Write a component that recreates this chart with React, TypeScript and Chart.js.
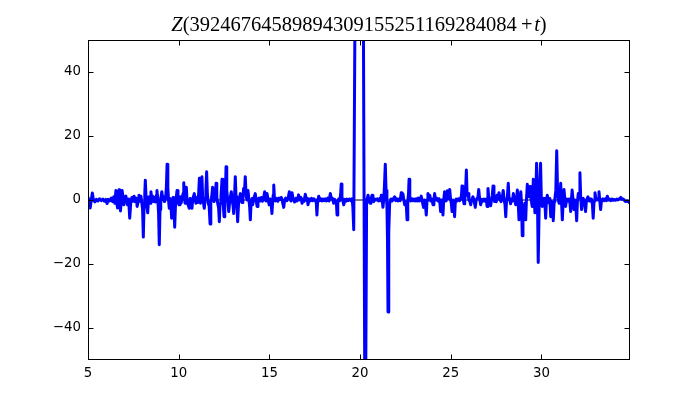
import { useEffect, useRef } from "react";
import { Chart, registerables } from "chart.js";

Chart.register(...registerables);

const titleParts: { text: string; italic: boolean }[] = [
  { text: "Z", italic: true },
  { text: "(39246764589894309155251169284084", italic: false },
  { text: "\u2009+\u200a", italic: false },
  { text: "t", italic: true },
  { text: ")", italic: false },
];
const xTicks = [5, 10, 15, 20, 25, 30];
const yTicks = [-40, -20, 0, 20, 40];
const X_MIN = 5;
const X_MAX = 34.88;
const Y_MIN = -50;
const Y_MAX = 50;

// [t, Z] pairs, by stretch of t
const part1: [number, number][] = [
  [5.0, 0.8], [5.06, -0.5], [5.12, -2.5], [5.18, 0], [5.24, 2.2], [5.3, 0], [5.38, -0.6], [5.46, 0.2],
  [5.55, -0.3], [5.64, 0.4], [5.73, -0.2], [5.82, 0.3], [5.9, -0.4], [5.98, 0.2], [6.05, -1.1], [6.12, 0.2],
  [6.2, -0.3], [6.28, 0.6], [6.35, -0.5], [6.42, 1.0], [6.48, -1.0], [6.54, 3.0], [6.59, -1.0], [6.63, -2.5],
  [6.67, 1.0], [6.71, 3.2], [6.75, 0], [6.79, -3.4], [6.84, 0], [6.88, 3.0], [6.93, 1.0], [6.98, -1.5],
  [7.03, 0.5], [7.09, 1.2], [7.14, -0.5], [7.18, -1.5], [7.24, 0.3], [7.3, -5.7], [7.36, -0.5], [7.42, 0.8],
  [7.48, -0.4], [7.54, 1.2], [7.6, -0.5], [7.66, 0.6], [7.71, -2.0], [7.76, -0.5], [7.81, 1.5], [7.86, -0.3],
  [7.92, 1.2], [7.97, -1.0], [8.01, -3.0], [8.05, -11.6], [8.09, -2.0], [8.13, 2.0], [8.16, 6.2], [8.2, 1.0],
  [8.24, -1.5], [8.29, -4.0], [8.33, -0.5], [8.38, 1.0], [8.43, -1.0], [8.47, 2.6], [8.52, 0], [8.57, 1.2],
  [8.62, -0.5], [8.67, 0.8], [8.72, -0.6], [8.77, 1.5], [8.8, 3.0], [8.85, 0], [8.89, -4.0], [8.93, -14.0],
  [8.97, -3.0], [9.01, 0.5], [9.07, 2.6], [9.12, 0], [9.17, 1.0], [9.22, -0.5], [9.28, 0.5], [9.32, 4.0],
  [9.36, 11.2], [9.4, 4.0], [9.44, 0], [9.48, -2.6], [9.52, 0.5], [9.57, -1.0], [9.61, -5.7], [9.65, -1.0],
  [9.69, 0.8], [9.73, -2.0], [9.78, -8.5], [9.82, -2.0], [9.87, 1.0], [9.91, 3.0], [9.96, 0],
];

const part2: [number, number][] = [
  [10.02, -1.5], [10.07, 1.0], [10.13, -1.0], [10.19, 0.5], [10.24, 2.0], [10.28, 5.4], [10.32, 1.0], [10.35, -1.0],
  [10.38, 1.5], [10.42, 4.0], [10.46, 0], [10.52, -1.5], [10.58, -2.6], [10.63, 0.5], [10.68, -1.2], [10.73, -2.6],
  [10.78, 0.5], [10.86, 2.0], [10.91, 0], [10.95, -1.0], [11.0, 0.8], [11.05, -0.8], [11.1, 2.0], [11.14, 6.8],
  [11.17, 1.0], [11.2, -1.0], [11.24, 2.0], [11.28, 7.3], [11.32, 1.0], [11.37, -1.0], [11.41, -2.6], [11.46, 0.5],
  [11.5, 3.0], [11.54, 8.8], [11.58, 2.0], [11.63, -1.0], [11.68, -2.0], [11.73, -7.5], [11.77, -1.0], [11.82, 1.0],
  [11.87, 4.0], [11.91, 1.0], [11.95, -0.5], [12.01, 1.0], [12.06, 5.2], [12.1, 1.0], [12.15, -1.0], [12.2, -2.5],
  [12.24, -6.8], [12.28, -1.0], [12.33, 1.0], [12.39, 6.5], [12.44, 0], [12.5, -5.2], [12.54, 0], [12.58, 3.0],
  [12.61, 10.4], [12.65, 3.0], [12.7, 0], [12.76, -3.6], [12.82, 0], [12.9, 2.6], [12.95, 0], [13.0, -2.0],
  [13.03, -4.2], [13.07, 0], [13.12, 7.3], [13.16, 1.0], [13.21, -2.0], [13.25, -6.8], [13.3, -1.0], [13.35, 0.5],
  [13.4, 2.0], [13.45, 0], [13.49, -0.8], [13.54, 1.0], [13.58, 3.6], [13.62, 2.0], [13.67, 7.3], [13.72, 1.0],
  [13.77, 0], [13.82, 3.0], [13.87, 0], [13.91, -2.0], [13.95, -6.2], [13.99, -1.0], [14.04, 0.5], [14.08, -1.5],
  [14.14, 0.5], [14.22, 2.0], [14.27, 0], [14.32, -2.0], [14.37, 0], [14.43, 0.6], [14.5, -0.3], [14.56, 0.8],
  [14.62, -0.4], [14.68, 0.6], [14.74, 2.6], [14.78, 0.5], [14.81, -0.3], [14.87, 2.0], [14.93, 0],
];

const part3: [number, number][] = [
  [14.99, -1.5], [15.05, 0.3], [15.1, -1.5], [15.14, -4.2], [15.18, -0.5], [15.21, 1.5], [15.24, 4.7], [15.28, 0.5],
  [15.33, -0.3], [15.4, 0.5], [15.47, -0.4], [15.54, 0.6], [15.6, 0.2], [15.66, 0.8], [15.72, -0.5], [15.79, -2.3],
  [15.84, 0], [15.9, 0.6], [15.97, -0.2], [16.04, 0.8], [16.1, 2.6], [16.15, 0.3], [16.19, -0.3], [16.25, 2.3],
  [16.31, 0.2], [16.39, -0.6], [16.46, 0.5], [16.53, -0.3], [16.61, 1.6], [16.68, 0], [16.74, 0.8], [16.8, -1.0],
  [16.87, 0.3], [16.92, -0.4], [16.98, 1.8], [17.04, 0], [17.08, 0.6], [17.13, -1.5], [17.19, 0.3], [17.25, -0.3],
  [17.32, 0.5], [17.38, -0.2], [17.45, 0.4], [17.52, -0.3], [17.58, 0], [17.62, -4.7], [17.66, -0.5], [17.72, 1.2],
  [17.78, -0.2], [17.84, 0.4], [17.9, -0.3], [17.96, 0.3], [18.02, -0.2], [18.08, 0.4], [18.15, -0.3], [18.22, 0.6],
  [18.29, -0.3], [18.36, 2.0], [18.42, 0.3], [18.48, 0.5], [18.54, -1.0], [18.6, 0.2], [18.66, -0.5], [18.7, -1.5],
  [18.73, -4.7], [18.77, -0.5], [18.82, 0.3], [18.88, -0.2], [18.93, 2.0], [18.96, 5.0], [19.0, 1.0], [19.05, -0.3],
  [19.1, -1.5], [19.16, 0.2], [19.22, -0.4], [19.28, 0.3], [19.35, -0.2], [19.42, 0.3], [19.49, -0.2], [19.55, 0.4],
  [19.6, -2.0], [19.65, -9.3], [19.72, 60], [19.85, 350], [20.0, 450], [20.12, 150], [20.22, 0], [20.28, -90],
  [20.36, 0],
];

const part4: [number, number][] = [
  [20.4, 0.5], [20.44, 1.5], [20.5, -0.5], [20.55, -1.0], [20.6, 0.3], [20.66, 1.5], [20.71, 0.2], [20.75, -0.5],
  [20.81, 0.3], [20.88, 0], [20.95, 0.4], [21.02, -0.3], [21.09, 0.5], [21.14, -0.2], [21.17, 1.5], [21.22, 0],
  [21.26, -2.3], [21.3, 0], [21.34, 4.0], [21.39, 11.2], [21.43, 3.0], [21.48, -2.0], [21.51, -12.0], [21.54, -35.0],
  [21.58, -10.0], [21.63, -1.0], [21.7, 0.3], [21.77, -0.3], [21.84, 0.5], [21.91, 1.0], [21.97, -0.2], [22.03, 0.4],
  [22.09, -0.3], [22.15, 0.3], [22.21, -0.2], [22.27, 2.3], [22.31, 0.5], [22.36, 2.0], [22.41, 0], [22.46, -1.5],
  [22.51, -0.5], [22.55, -2.0], [22.59, -6.2], [22.63, -0.5], [22.67, 2.0], [22.7, 6.5], [22.74, 1.0], [22.79, -0.3],
  [22.85, 0.4], [22.91, -0.2], [22.97, 0.3], [23.03, -0.3], [23.09, 0.4], [23.15, -0.3], [23.21, 0.6], [23.27, -0.3],
  [23.33, 0.5], [23.37, 1.2], [23.43, -0.5], [23.5, -2.3], [23.55, 0], [23.6, -1.5], [23.65, -4.7], [23.69, 0],
  [23.74, 2.0], [23.79, 0], [23.84, 1.5], [23.9, -0.3], [23.96, 0.3], [24.02, -1.5], [24.07, 0], [24.11, 2.0],
  [24.16, 0], [24.22, 0.6], [24.29, -0.3], [24.35, 0.4], [24.4, -1.0], [24.44, -3.6], [24.49, 0], [24.53, -1.5],
  [24.57, -4.7], [24.61, 0], [24.66, 2.6], [24.7, 0.5], [24.74, -0.3], [24.81, 2.9], [24.86, 0.5], [24.9, 1.0],
  [24.94, 3.3], [24.99, 0],
];

const part5: [number, number][] = [
  [25.03, -1.0], [25.07, -3.6], [25.12, 0], [25.17, -1.5], [25.21, -5.2], [25.25, -0.5], [25.3, 0.3], [25.36, -0.3],
  [25.42, 0.4], [25.49, -0.2], [25.55, 0.6], [25.59, 1.5], [25.62, 4.4], [25.66, 0.5], [25.7, -0.3], [25.73, -1.2],
  [25.77, 0], [25.81, 2.5], [25.86, 9.4], [25.9, 1.5], [25.95, 2.0], [26.0, 0], [26.05, -0.5], [26.1, -1.5],
  [26.15, 0], [26.22, 1.0], [26.28, 0], [26.35, -2.3], [26.4, 0], [26.46, 0.6], [26.5, 1.0], [26.54, 3.3],
  [26.59, 0.3], [26.65, -1.5], [26.71, 0.2], [26.77, -0.4], [26.83, 0.3], [26.9, -0.4], [26.96, 0.3], [27.0, -2.0],
  [27.05, 3.6], [27.1, 0.2], [27.15, -0.6], [27.2, -1.8], [27.25, 0.3], [27.29, 1.5], [27.33, 4.4], [27.38, 0.5],
  [27.42, -0.5], [27.46, 0], [27.51, -0.5], [27.55, 1.5], [27.61, 0.3], [27.66, 2.3], [27.72, 0.2], [27.77, -0.5],
  [27.83, 0.5], [27.89, 3.0], [27.94, 0], [27.99, -1.5], [28.03, -5.2], [28.07, -0.5], [28.12, 1.0], [28.17, 5.2],
  [28.21, 0.5], [28.26, -0.2], [28.3, -1.2], [28.35, 0.3], [28.4, -0.3], [28.45, 2.0], [28.5, 0], [28.54, -0.4],
  [28.58, -1.5], [28.62, 0.3], [28.67, 3.1], [28.71, 0], [28.76, -6.2], [28.8, -0.5], [28.86, 2.6], [28.9, -1.0],
  [28.94, -11.2], [28.98, -2.0], [29.03, -3.0], [29.08, -1.0], [29.13, -6.2], [29.17, 0], [29.22, 4.9], [29.27, 1.0],
  [29.32, 2.0], [29.37, 4.2], [29.42, 0.5], [29.49, -2.0], [29.52, 0], [29.55, 6.5], [29.6, 0], [29.64, -4.0],
  [29.68, 0], [29.73, 11.5], [29.78, 0], [29.82, -19.5], [29.88, 0], [29.95, 11.5], [29.99, 1.0],
];

const part6: [number, number][] = [
  [30.04, -2.0], [30.09, -0.3], [30.14, 0.5], [30.19, -1.0], [30.23, -5.7], [30.27, -0.5], [30.32, 1.5], [30.37, 0],
  [30.42, -1.0], [30.46, 0.5], [30.51, -5.2], [30.56, -0.5], [30.6, -1.5], [30.65, -6.5], [30.7, -0.5], [30.74, 0.5],
  [30.79, 3.0], [30.84, 15.4], [30.89, 2.0], [30.93, 0], [30.97, -1.0], [31.02, 1.0], [31.06, 5.2], [31.1, 0],
  [31.15, -6.2], [31.2, 0], [31.24, 3.3], [31.29, 0], [31.33, -2.0], [31.39, 0.3], [31.46, -0.3], [31.52, 0.3],
  [31.57, -1.0], [31.61, -3.6], [31.65, 0], [31.69, 3.1], [31.74, 0], [31.79, -3.0], [31.84, 0], [31.89, -1.5],
  [31.94, -6.5], [31.98, -0.5], [32.03, 2.0], [32.07, 1.0], [32.12, 8.5], [32.16, 1.0], [32.21, -3.0], [32.25, 0],
  [32.3, 0.5], [32.36, -0.5], [32.43, -3.6], [32.48, 0], [32.56, 1.0], [32.62, -0.3], [32.67, 0.4], [32.71, -0.3],
  [32.76, 0.3], [32.81, -1.5], [32.85, -5.7], [32.9, -0.3], [32.95, 2.3], [33.01, 0], [33.07, 0.4], [33.12, 0],
  [33.17, 2.6], [33.21, 0], [33.26, -3.0], [33.31, 0], [33.38, 0.4], [33.45, -0.2], [33.52, 0.4], [33.58, -0.2],
  [33.63, 1.2], [33.69, 0], [33.75, 0.3], [33.81, -0.2], [33.88, 0.3], [33.94, -0.1], [34.0, 0.2], [34.07, -0.1],
  [34.15, 0.3], [34.22, 0], [34.3, 0.4], [34.37, 0.8], [34.44, 0.2], [34.51, 0.3], [34.58, -0.2], [34.64, -0.5],
  [34.72, -0.3], [34.8, -0.6], [34.88, -1.0],
];

const TITLE_FONT = "'Liberation Serif', 'DejaVu Serif', serif";
const TITLE_SIZE = 20.5;

const titleAndFrame = {
  id: "titleAndFrame",
  afterDatasetsDraw(chart: any) {
    const { ctx, chartArea: a, scales } = chart;
    ctx.save();
    ctx.strokeStyle = "#000000";
    ctx.lineWidth = 1;
    const L = Math.round(a.left) + 0.5;
    const R = Math.round(a.right) - 0.5;
    const T = Math.round(a.top) + 0.5;
    const B = Math.round(a.bottom) - 0.5;
    ctx.strokeRect(L, T, R - L, B - T);
    const len = 5;
    ctx.beginPath();
    for (const v of xTicks) {
      const px = Math.round(scales.x.getPixelForValue(v)) + 0.5;
      ctx.moveTo(px, B);
      ctx.lineTo(px, B - len);
      ctx.moveTo(px, T);
      ctx.lineTo(px, T + len);
    }
    for (const v of yTicks) {
      const py = Math.round(scales.y.getPixelForValue(v)) + 0.5;
      ctx.moveTo(L, py);
      ctx.lineTo(L + len, py);
      ctx.moveTo(R, py);
      ctx.lineTo(R - len, py);
    }
    ctx.stroke();

    // title, centred over the plot area, with italic Z and t
    ctx.fillStyle = "#000000";
    ctx.textBaseline = "alphabetic";
    ctx.textAlign = "left";
    const fontFor = (it: boolean) => `${it ? "italic " : ""}${TITLE_SIZE}px ${TITLE_FONT}`;
    let total = 0;
    const widths = titleParts.map((p) => {
      ctx.font = fontFor(p.italic);
      const w = ctx.measureText(p.text).width;
      total += w;
      return w;
    });
    let x = (a.left + a.right) / 2 - total / 2;
    const y = 31;
    titleParts.forEach((p, i) => {
      ctx.font = fontFor(p.italic);
      ctx.fillText(p.text, x, y);
      x += widths[i];
    });
    ctx.restore();
  },
};

export default function App() {
  const ref = useRef<HTMLCanvasElement | null>(null);

  useEffect(() => {
    if (!ref.current) return;
    const pairs = [...part1, ...part2, ...part3, ...part4, ...part5, ...part6];
    const points = pairs.map(([t, z]) => ({ x: t, y: z }));
    const chart = new Chart(ref.current, {
      type: "line",
      data: {
        datasets: [
          {
            data: points,
            borderColor: "#0000ff",
            borderWidth: 3,
            borderJoinStyle: "round",
            borderCapStyle: "round",
            pointRadius: 0,
            tension: 0,
            fill: false,
          },
          {
            data: [
              { x: X_MIN, y: 0 },
              { x: X_MAX, y: 0 },
            ],
            borderColor: "#000000",
            borderWidth: 1,
            pointRadius: 0,
            fill: false,
          },
        ],
      },
      options: {
        responsive: false,
        animation: false,
        layout: { padding: { top: 40, left: 0, right: 70, bottom: 0 } },
        plugins: {
          legend: { display: false },
          tooltip: { enabled: false },
          title: { display: false },
        },
        scales: {
          x: {
            type: "linear",
            min: X_MIN,
            max: X_MAX,
            afterBuildTicks: (scale: any) => {
              scale.ticks = xTicks.map((v) => ({ value: v }));
            },
            afterFit: (scale: any) => {
              scale.height = 40;
            },
            grid: { display: false, drawTicks: false },
            border: { display: false },
            ticks: {
              color: "#000000",
              padding: 6,
              maxRotation: 0,
              font: { family: "'DejaVu Sans', sans-serif", size: 13.33 },
              callback: (v: any) => String(v),
            },
          },
          y: {
            type: "linear",
            min: Y_MIN,
            max: Y_MAX,
            afterBuildTicks: (scale: any) => {
              scale.ticks = yTicks.map((v) => ({ value: v }));
            },
            afterFit: (scale: any) => {
              scale.width = 88;
            },
            grid: { display: false, drawTicks: false },
            border: { display: false },
            ticks: {
              color: "#000000",
              padding: 7,
              font: { family: "'DejaVu Sans', sans-serif", size: 13.33 },
              callback: (v: any) => (v < 0 ? "\u2212" + Math.abs(v) : String(v)),
            },
          },
        },
      },
      plugins: [titleAndFrame],
    });
    return () => chart.destroy();
  }, []);

  return (
    <div style={{ position: "fixed", left: 0, top: 0, width: 700, height: 400, background: "#ffffff" }}>
      <canvas ref={ref} width={700} height={400} />
    </div>
  );
}
